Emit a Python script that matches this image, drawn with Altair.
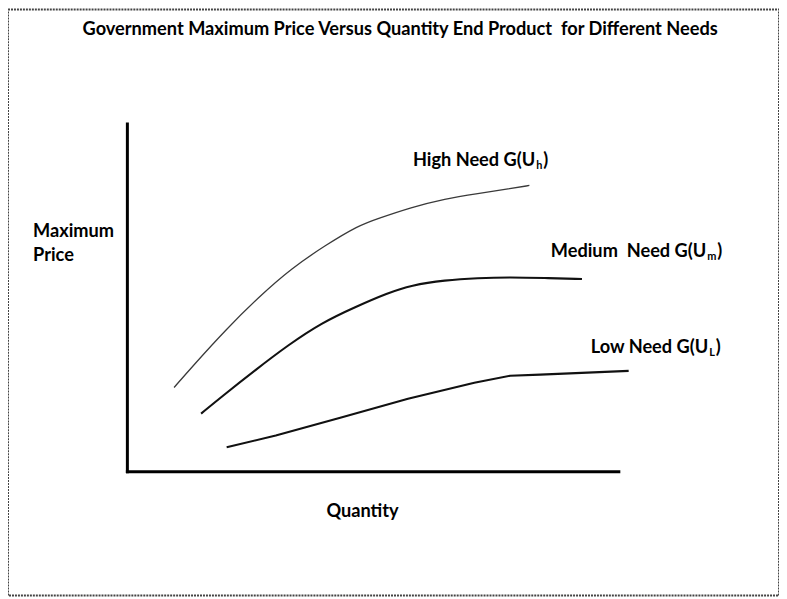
import altair as alt
import pandas as pd

# ---- data (quantity / price in arbitrary units; axes run 0..100) ----
high_q = [9.5, 13.2, 20.0, 26.7, 33.4, 40.3, 47.0, 51.0, 57.7, 64.6, 71.3, 77.9, 81.8]
high_p = [24.2, 30.2, 40.8, 50.2, 58.5, 65.1, 70.8, 72.8, 76.0, 78.5, 80.0, 81.4, 82.3]

med_q = [15.0, 19.2, 26.1, 32.8, 39.5, 46.4, 53.0, 57.7, 64.6, 71.3, 77.9, 84.8, 92.5]
med_p = [16.7, 21.6, 29.3, 36.5, 42.8, 47.4, 51.4, 53.6, 55.1, 55.7, 55.9, 55.7, 55.4]

low_q = [20.2, 30.2, 43.5, 57.1, 70.6, 77.9, 84.0, 102.0]
low_p = [7.0, 10.4, 15.6, 21.0, 25.6, 27.6, 27.9, 29.0]

series_names = ["High", "Medium", "Low"]
label_main = ["High Need G(U", "Medium\u00a0 Need G(U", "Low Need G(U"]
label_sub = ["h", "m", "L"]
label_q = [83.0, 117.8, 118.2]
label_p = [88.0, 61.7, 34.2]

title_text = "Government Maximum Price Versus Quantity End Product\u00a0 for Different Needs"
y_title = "Maximum\nPrice"
x_title = "Quantity"

axis_x = [0, 0]
axis_y = [0, 0]
axis_x2 = [0, 100]
axis_y2 = [100, 0]

# ---- tables ----
high_df = pd.DataFrame({"q": high_q, "p": high_p})
med_df = pd.DataFrame({"q": med_q, "p": med_p})
low_df = pd.DataFrame({"q": low_q, "p": low_p})
lab_df = pd.DataFrame({"name": series_names, "main": label_main, "sub": label_sub,
                       "q": label_q, "p": label_p})
axes_df = pd.DataFrame({"x": axis_x, "y": axis_y, "x2": axis_x2, "y2": axis_y2})
text_df = pd.DataFrame({"t": [title_text, y_title, x_title],
                        "q": [55.5, -19.2, 40.5],
                        "p": [125.5, 67.4, -13.0],
                        "kind": ["title", "ytitle", "xtitle"]})

xs = alt.Scale(domain=[-24.29, 132.59], nice=False, zero=False)
ys = alt.Scale(domain=[-35.6, 132.9], nice=False, zero=False)
FONT = "Lato"
FS = 18.3

def X(f):
    return alt.X(f, type="quantitative", scale=xs, axis=None)

def Y(f):
    return alt.Y(f, type="quantitative", scale=ys, axis=None)

axes = alt.Chart(axes_df).mark_rule(color="#000", strokeWidth=3, strokeCap="square").encode(
    x=X("x"), y=Y("y"), x2="x2", y2="y2")

high = alt.Chart(high_df).mark_line(color="#3a3a3a", strokeWidth=1.3, interpolate="basis").encode(
    x=X("q"), y=Y("p"), order="q:Q")
med = alt.Chart(med_df).mark_line(color="#111", strokeWidth=2.1, interpolate="basis").encode(
    x=X("q"), y=Y("p"), order="q:Q")
low = alt.Chart(low_df).mark_line(color="#111", strokeWidth=2.1, interpolate="linear").encode(
    x=X("q"), y=Y("p"), order="q:Q")

base_txt = dict(font=FONT, fontWeight="bold", color="#000")

title = alt.Chart(text_df).transform_filter(alt.datum.kind == "title").mark_text(
    align="center", baseline="alphabetic", fontSize=FS, **base_txt).encode(
    x=X("q"), y=Y("p"), text="t:N")
ytitle = alt.Chart(text_df).transform_filter(alt.datum.kind == "ytitle").mark_text(
    align="left", baseline="alphabetic", fontSize=FS, lineBreak="\n", lineHeight=24, **base_txt).encode(
    x=X("q"), y=Y("p"), text="t:N")
xtitle = alt.Chart(text_df).transform_filter(alt.datum.kind == "xtitle").mark_text(
    align="left", baseline="alphabetic", fontSize=FS, **base_txt).encode(
    x=X("q"), y=Y("p"), text="t:N")

main_lbl = alt.Chart(lab_df).mark_text(
    align="right", baseline="alphabetic", fontSize=FS, **base_txt).encode(
    x=X("q"), y=Y("p"), text="main:N")
sub_lbl = alt.Chart(lab_df).mark_text(
    align="left", baseline="alphabetic", fontSize=11, dx=1, dy=3, **base_txt).encode(
    x=X("q"), y=Y("p"), text="sub:N")

paren_dx = {"h": 8, "m": 11, "L": 7.5}
parens = []
for s, d in paren_dx.items():
    parens.append(
        alt.Chart(lab_df).transform_filter(alt.datum["sub"] == s).transform_calculate(
            par="')'").mark_text(align="left", baseline="alphabetic", fontSize=FS, dx=d, **base_txt).encode(
            x=X("q"), y=Y("p"), text="par:N"))

chart = alt.layer(axes, high, med, low, title, ytitle, xtitle, main_lbl, sub_lbl, *parens).properties(
    width=775, height=589, padding=0, autosize=alt.AutoSizeParams(type="none"),
    background="white"
).configure_view(stroke="#444", strokeWidth=2, strokeDash=[2, 1])

chart.save("out.html", embed_options={"renderer": "svg", "actions": False})
